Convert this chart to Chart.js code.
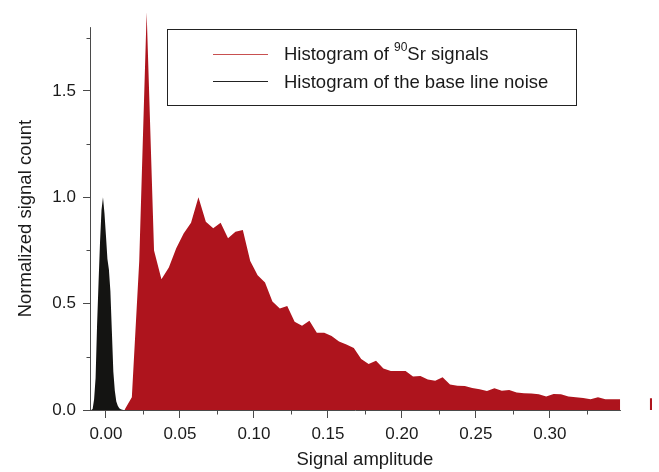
<!DOCTYPE html>
<html>
<head>
<meta charset="utf-8">
<script src="https://cdn.jsdelivr.net/npm/chart.js@4.4.1/dist/chart.umd.min.js"></script>
<style>
  html, body { margin: 0; padding: 0; background: #fff; }
  #wrap { width: 659px; height: 472px; position: relative; }
</style>
</head>
<body>
<div id="wrap"><canvas id="histChart"></canvas></div>
<script>
// base line noise histogram
const noiseAmplitude = [-0.010, -0.009, -0.008, -0.007, -0.006, -0.005, -0.004, -0.003, -0.002, -0.001,
  0.000, 0.001, 0.002, 0.003, 0.004, 0.005, 0.006, 0.007, 0.008, 0.009, 0.010, 0.011, 0.012];
const noiseCount = [0, 0.005, 0.05, 0.15, 0.40, 0.60, 0.79, 0.94, 1.00, 0.925,
  0.82, 0.71, 0.66, 0.56, 0.37, 0.18, 0.09, 0.04, 0.02, 0.008, 0.003, 0.001, 0];

// 90Sr signal histogram
const srAmplitude = [0.0125, 0.0175, 0.0225, 0.0275, 0.0325, 0.0375, 0.0425, 0.0475, 0.0525, 0.0575,
  0.0625, 0.0675, 0.0725, 0.0775, 0.0825, 0.0875, 0.0925, 0.0975, 0.1025, 0.1075,
  0.1125, 0.1175, 0.1225, 0.1275, 0.1325, 0.1375, 0.1425, 0.1475, 0.1525, 0.1575,
  0.1625, 0.1675, 0.1725, 0.1775, 0.1825, 0.1875, 0.1925, 0.1975, 0.2025, 0.2075,
  0.2125, 0.2175, 0.2225, 0.2275, 0.2325, 0.2375, 0.2425, 0.2475, 0.2525, 0.2575,
  0.2625, 0.2675, 0.2725, 0.2775, 0.2825, 0.2875, 0.2925, 0.2975, 0.3025, 0.3075,
  0.3125, 0.3175, 0.3225, 0.3275, 0.3325, 0.3375, 0.3425, 0.3475, 0.3525, 0.3575,
  0.3625, 0.3675, 0.3725];
const srCount = [0, 0.06, 0.70, 1.87, 0.75, 0.615, 0.67, 0.76, 0.83, 0.88,
  1.00, 0.885, 0.854, 0.880, 0.807, 0.838, 0.846, 0.70, 0.634, 0.60,
  0.51, 0.477, 0.489, 0.415, 0.396, 0.420, 0.363, 0.363, 0.348, 0.322,
  0.308, 0.292, 0.240, 0.216, 0.232, 0.195, 0.183, 0.183, 0.183, 0.157,
  0.160, 0.143, 0.138, 0.154, 0.120, 0.114, 0.113, 0.103, 0.097, 0.089,
  0.102, 0.091, 0.094, 0.082, 0.079, 0.078, 0.074, 0.063, 0.075, 0.074,
  0.063, 0.060, 0.056, 0.050, 0.060, 0.050, 0.050, 0.050, null, null,
  null, 0.055, 0.055];

// ticks
const xMajorTicks = [0, 0.05, 0.10, 0.15, 0.20, 0.25, 0.30];
const xMinorTicks = [0.025, 0.075, 0.125, 0.175, 0.225, 0.275, 0.325];
const yMajorTicks = [0, 0.5, 1.0, 1.5];
const yMinorTicks = [0.25, 0.75, 1.25, 1.75];
const yAxisTop = 1.8;
const xAxisEnd = 0.348;
const xTitleCenter = 0.175;

const xTitle = 'Signal amplitude';
const yTitle = 'Normalized signal count';
const srLabel = ['Histogram of ', '90', 'Sr signals'];
const noiseLabel = 'Histogram of the base line noise';

const redFill = 'rgb(174, 20, 29)';
const blackFill = 'rgb(20, 20, 18)';
const axisColor = '#4a4a4a';
const textColor = '#1a1a1a';
const fontFamily = '"Liberation Sans", Arial, sans-serif';

// axis lines + minor ticks, drawn under the fills
const axisLines = {
    id: 'axisLines',
    beforeDatasetsDraw(chart) {
        const ctx = chart.ctx;
        const xs = chart.scales.x;
        const ys = chart.scales.y;
        const left = Math.round(chart.chartArea.left) - 0.5;
        const bottom = Math.round(ys.getPixelForValue(0)) + 0.5;
        ctx.save();
        ctx.strokeStyle = axisColor;
        ctx.lineWidth = 1;
        ctx.beginPath();
        ctx.moveTo(left, ys.getPixelForValue(yAxisTop));
        ctx.lineTo(left, bottom);
        ctx.lineTo(xs.getPixelForValue(xAxisEnd), bottom);
        xMinorTicks.forEach(v => {
            const px = Math.round(xs.getPixelForValue(v)) + 0.5;
            ctx.moveTo(px, bottom);
            ctx.lineTo(px, bottom + 4);
        });
        yMinorTicks.forEach(v => {
            const py = Math.round(ys.getPixelForValue(v)) + 0.5;
            ctx.moveTo(left, py);
            ctx.lineTo(left - 4, py);
        });
        ctx.stroke();

        // axis titles
        ctx.fillStyle = textColor;
        ctx.font = '18.5px ' + fontFamily;
        ctx.textAlign = 'center';
        ctx.textBaseline = 'middle';
        ctx.fillText(xTitle, xs.getPixelForValue(xTitleCenter), 460);
        ctx.translate(26, (ys.getPixelForValue(0) + ys.getPixelForValue(yAxisTop)) / 2);
        ctx.rotate(-Math.PI / 2);
        ctx.fillText(yTitle, 0, 0);
        ctx.restore();
    }
};

// boxed legend with the superscript
const boxLegend = {
    id: 'boxLegend',
    afterDraw(chart) {
        const ctx = chart.ctx;
        ctx.save();
        ctx.strokeStyle = '#222';
        ctx.lineWidth = 1;
        ctx.strokeRect(167.5, 29.5, 409, 76);

        ctx.lineWidth = 1;
        ctx.strokeStyle = 'rgb(200, 80, 80)';
        ctx.beginPath();
        ctx.moveTo(213, 54.5);
        ctx.lineTo(268, 54.5);
        ctx.stroke();
        ctx.strokeStyle = '#222';
        ctx.beginPath();
        ctx.moveTo(213, 81.5);
        ctx.lineTo(268, 81.5);
        ctx.stroke();

        ctx.fillStyle = textColor;
        ctx.textBaseline = 'middle';
        ctx.font = '18.5px ' + fontFamily;
        let tx = 284;
        ctx.fillText(srLabel[0], tx, 55);
        tx += ctx.measureText(srLabel[0]).width;
        ctx.font = '12px ' + fontFamily;
        ctx.fillText(srLabel[1], tx, 48);
        tx += ctx.measureText(srLabel[1]).width;
        ctx.font = '18.5px ' + fontFamily;
        ctx.fillText(srLabel[2], tx, 55);
        ctx.fillText(noiseLabel, 284, 82.5);
        ctx.restore();
    }
};

const data = {
    datasets: [{
        label: srLabel.join(''),
        data: srAmplitude.map((x, i) => ({x: x, y: srCount[i]})),
        backgroundColor: redFill,
        borderColor: redFill,
        borderWidth: 0,
        pointRadius: 0,
        fill: 'origin',
        tension: 0,
        spanGaps: false
    }, {
        label: noiseLabel,
        data: noiseAmplitude.map((x, i) => ({x: x, y: noiseCount[i]})),
        backgroundColor: blackFill,
        borderColor: blackFill,
        borderWidth: 0,
        pointRadius: 0,
        fill: 'origin',
        tension: 0
    }]
};

const config = {
    type: 'line',
    data: data,
    options: {
        responsive: true,
        maintainAspectRatio: false,
        animation: false,
        layout: { padding: { top: 8, right: 7, bottom: 0, left: 0 } },
        plugins: {
            legend: { display: false },
            tooltip: { enabled: false }
        },
        scales: {
            x: {
                type: 'linear',
                min: -0.0101,
                max: 0.369,
                afterBuildTicks: s => { s.ticks = xMajorTicks.map(v => ({value: v})); },
                afterFit: s => {
                    s.height = 62;
                    s.paddingLeft = 0;
                    s.paddingRight = 0;
                },
                border: { display: false },
                grid: { drawOnChartArea: false, tickLength: 8, color: axisColor },
                ticks: {
                    autoSkip: false,
                    maxRotation: 0,
                    padding: 6,
                    color: textColor,
                    font: { family: fontFamily, size: 17 },
                    callback: v => v.toFixed(2)
                }
            },
            y: {
                min: 0,
                max: 1.89,
                afterBuildTicks: s => { s.ticks = yMajorTicks.map(v => ({value: v})); },
                afterFit: s => {
                    s.width = 91;
                    s.paddingTop = 0;
                    s.paddingBottom = 0;
                },
                border: { display: false },
                grid: { drawOnChartArea: false, tickLength: 8, color: axisColor },
                ticks: {
                    padding: 7,
                    color: textColor,
                    font: { family: fontFamily, size: 17 },
                    callback: v => v.toFixed(1)
                }
            }
        }
    },
    plugins: [axisLines, boxLegend]
};

const myChart = new Chart(document.getElementById('histChart'), config);
</script>
</body>
</html>
